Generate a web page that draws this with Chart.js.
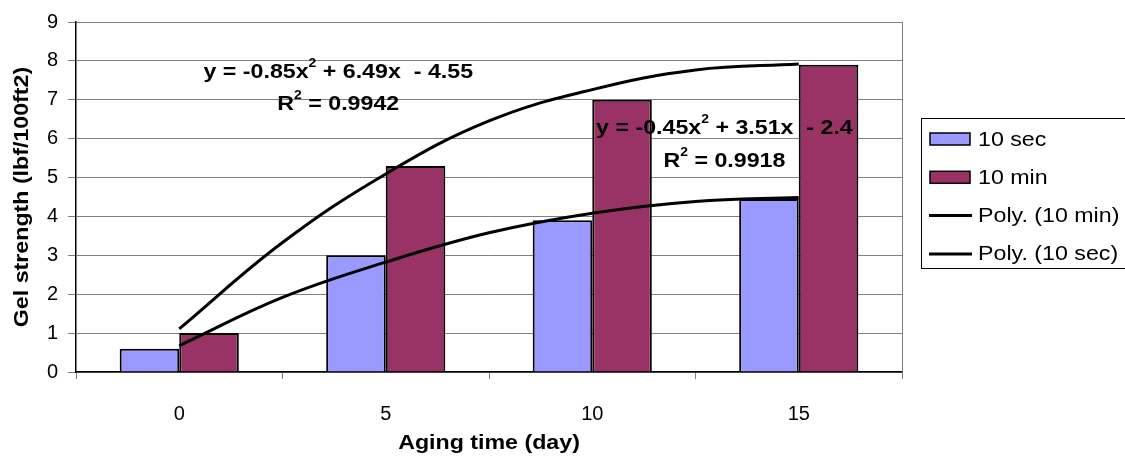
<!DOCTYPE html>
<html>
<head>
<meta charset="utf-8">
<script src="https://cdn.jsdelivr.net/npm/chart.js@4/dist/chart.umd.min.js"></script>
<style>
  html, body { margin: 0; padding: 0; background: #fff; }
  #wrap { position: relative; width: 1125px; height: 461px; }
  #wrap canvas { position: absolute; left: 0; top: 0; }
</style>
</head>
<body>
<div id="wrap">
  <canvas id="gelChart" width="1125" height="461"></canvas>
  <canvas id="trendChart" width="1125" height="461"></canvas>
</div>
<script>
// Aging time categories and measured gel strengths
const days = ['0', '5', '10', '15'];
const sec10 = [0.6, 3.0, 3.9, 4.45];
const min10 = [1.0, 5.3, 7.0, 7.9];

// Trendline points (x = category position)
const trendX = [0, 0.5, 1, 1.5, 2, 2.5, 3];
const polyMin = [1.1, 3.3, 5.05, 6.4, 7.2, 7.7, 7.85];
const polySec = [0.67, 1.9, 2.8, 3.55, 4.05, 4.35, 4.45];

const yTicks = [0, 1, 2, 3, 4, 5, 6, 7, 8, 9];

// Trendline equation labels: parts [text, superscript], x (category pos), y (value)
const eqLabels = [
    { parts: [['y = -0.85x', false], ['2', true], [' + 6.49x  - 4.55', false]], x: 0.77, y: 7.7 },
    { parts: [['R', false], ['2', true], [' = 0.9942', false]], x: 0.77, y: 6.88 },
    { parts: [['y = -0.45x', false], ['2', true], [' + 3.51x  - 2.4', false]], x: 2.64, y: 6.25 },
    { parts: [['R', false], ['2', true], [' = 0.9918', false]], x: 2.64, y: 5.42 }
];

const legendItems = [
    { label: '10 sec', kind: 'box', color: '#9999FF' },
    { label: '10 min', kind: 'box', color: '#993366' },
    { label: 'Poly. (10 min)', kind: 'line', color: '#000' },
    { label: 'Poly. (10 sec)', kind: 'line', color: '#000' }
];

const xTitle = 'Aging time (day)';
const yTitle = 'Gel strength (lbf/100ft2)';

const FONT = "'Liberation Sans', Arial, sans-serif";
const STRETCH = 1.16; // reference text is a bit wider than plain Arial

// plot area shared by both charts
const PAD = { left: 76, top: 19, right: 223, bottom: 89 };

const toPts = (xs, ys) => xs.map((x, i) => ({ x: x, y: ys[i] }));

// write text stretched horizontally, centred on cx
function wideText(ctx, parts, cx, cy, size) {
    const big = 'bold ' + size + 'px ' + FONT;
    const small = 'bold ' + Math.round(size * 0.62) + 'px ' + FONT;
    let w = 0;
    parts.forEach(p => {
        ctx.font = p[1] ? small : big;
        w += ctx.measureText(p[0]).width;
    });
    ctx.save();
    ctx.translate(cx, cy);
    ctx.scale(STRETCH, 1);
    let x = -w / 2;
    parts.forEach(p => {
        ctx.font = p[1] ? small : big;
        ctx.fillText(p[0], x, p[1] ? -size * 0.45 : 0);
        x += ctx.measureText(p[0]).width;
    });
    ctx.restore();
}

// draws equations, axis titles, plot border and the legend box
const extrasPlugin = {
    id: 'extras',
    afterDatasetsDraw(chart) {
        const ctx = chart.ctx;
        const area = chart.chartArea;
        const xs = chart.scales.x;
        const ys = chart.scales.y;

        ctx.save();
        // right plot border
        ctx.strokeStyle = '#808080';
        ctx.lineWidth = 1;
        ctx.beginPath();
        ctx.moveTo(area.right + 0.5, area.top);
        ctx.lineTo(area.right + 0.5, area.bottom);
        ctx.stroke();

        ctx.fillStyle = '#000';
        ctx.textBaseline = 'middle';
        ctx.textAlign = 'left';

        // equation labels
        eqLabels.forEach(lab => {
            wideText(ctx, lab.parts, xs.getPixelForValue(lab.x), ys.getPixelForValue(lab.y), 20);
        });

        // axis titles
        wideText(ctx, [[xTitle, false]], (area.left + area.right) / 2, 443, 20);
        ctx.save();
        ctx.translate(22, (area.top + area.bottom) / 2);
        ctx.rotate(-Math.PI / 2);
        wideText(ctx, [[yTitle, false]], 0, 0, 20);
        ctx.restore();

        // legend (box runs past the right edge, as in the original)
        const lx = area.right + 19;
        const ly = 118;
        ctx.strokeStyle = '#000';
        ctx.lineWidth = 1;
        ctx.strokeRect(lx + 0.5, ly + 0.5, 1130 - lx, 150);
        legendItems.forEach((item, i) => {
            const y = ly + 21 + i * 38.3;
            if (item.kind === 'line') {
                ctx.strokeStyle = item.color;
                ctx.lineWidth = 3;
                ctx.beginPath();
                ctx.moveTo(lx + 8, y);
                ctx.lineTo(lx + 51, y);
                ctx.stroke();
            } else {
                ctx.fillStyle = item.color;
                ctx.fillRect(lx + 9, y - 6, 40, 12);
                ctx.strokeStyle = '#000';
                ctx.lineWidth = 1.5;
                ctx.strokeRect(lx + 9, y - 6, 40, 12);
            }
            ctx.fillStyle = '#000';
            ctx.save();
            ctx.translate(lx + 57, y + 1);
            ctx.scale(STRETCH, 1);
            ctx.font = '20px ' + FONT;
            ctx.fillText(item.label, 0, 0);
            ctx.restore();
        });
        ctx.restore();
    }
};

// bars, axes, grid
new Chart(document.getElementById('gelChart'), {
    type: 'bar',
    data: {
        labels: days,
        datasets: [
            {
                label: '10 sec',
                data: sec10,
                backgroundColor: '#9999FF',
                borderColor: '#000',
                borderWidth: 2
            },
            {
                label: '10 min',
                data: min10,
                backgroundColor: '#993366',
                borderColor: '#000',
                borderWidth: 2
            }
        ]
    },
    options: {
        responsive: false,
        animation: false,
        devicePixelRatio: 1,
        layout: { padding: { left: 0, top: PAD.top, right: PAD.right, bottom: 0 } },
        datasets: { bar: { categoryPercentage: 0.577, barPercentage: 1.0 } },
        plugins: {
            legend: { display: false },
            tooltip: { enabled: false }
        },
        scales: {
            x: {
                grid: {
                    offset: true,
                    drawOnChartArea: false,
                    drawTicks: true,
                    tickLength: 7,
                    color: '#808080'
                },
                border: { color: '#000', width: 1.5 },
                ticks: {
                    color: '#000',
                    padding: 23,
                    font: { family: FONT, size: 20 }
                },
                afterFit(scale) { scale.height = PAD.bottom; }
            },
            y: {
                min: 0,
                max: 9,
                afterBuildTicks(scale) { scale.ticks = yTicks.map(v => ({ value: v })); },
                grid: {
                    color: '#808080',
                    lineWidth: 1,
                    tickLength: 8
                },
                border: { color: '#000', width: 1.5 },
                ticks: {
                    color: '#000',
                    padding: 10,
                    font: { family: FONT, size: 20 }
                },
                afterFit(scale) { scale.width = PAD.left; }
            }
        }
    },
    plugins: [extrasPlugin]
});

// polynomial trendlines, drawn over the bars on a transparent layer
new Chart(document.getElementById('trendChart'), {
    type: 'line',
    data: {
        datasets: [
            { label: 'Poly. (10 min)', data: toPts(trendX, polyMin) },
            { label: 'Poly. (10 sec)', data: toPts(trendX, polySec) }
        ]
    },
    options: {
        responsive: false,
        animation: false,
        devicePixelRatio: 1,
        layout: { padding: PAD },
        elements: {
            line: { borderColor: '#000', borderWidth: 3, tension: 0.4, fill: false },
            point: { radius: 0 }
        },
        plugins: {
            legend: { display: false },
            tooltip: { enabled: false }
        },
        scales: {
            x: { type: 'linear', display: false, min: -0.5, max: 3.5 },
            y: { display: false, min: 0, max: 9 }
        }
    }
});
</script>
</body>
</html>
